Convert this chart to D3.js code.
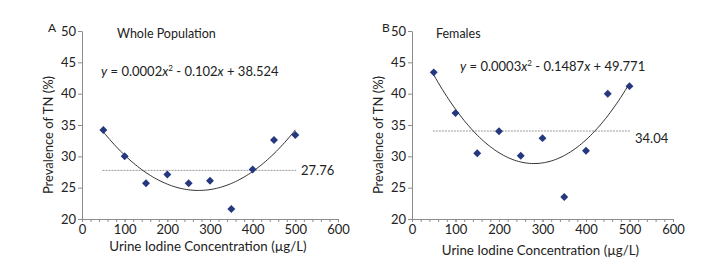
<!DOCTYPE html>
<html lang="en">
<head>
<meta charset="UTF-8">
<title>Prevalence of TN vs urine iodine</title>
<script src="https://d3js.org/d3.v7.min.js"></script>
<style>
  body { margin: 0; background: #fff; }
  svg { display: block; font-family: Lato, 'Open Sans', sans-serif; }
  .axis path, .axis line { stroke: #8c8c8c; }
  .axis text { fill: #222; font-size: 13px; font-family: Lato, sans-serif; }
</style>
</head>
<body>
<svg id="chart" width="716" height="263"></svg>
<script>
// urine iodine groups (µg/L)
const iodine = [50, 100, 150, 200, 250, 300, 350, 400, 450, 500];
// prevalence of TN (%)
const wholePop = [34.2, 30.0, 25.7, 27.1, 25.7, 26.1, 21.6, 27.9, 32.6, 33.4];
const females = [43.4, 36.9, 30.5, 34.0, 30.1, 32.9, 23.5, 30.9, 40.0, 41.2];
const xTicks = [0, 100, 200, 300, 400, 500, 600];
const yTicks = [20, 25, 30, 35, 40, 45, 50];

const panels = [
  { letter: 'A', title: 'Whole Population', values: wholePop, mean: 27.76,
    eq: ['0.0002', '0.102', '38.524'], left: 82, right: 338,
    letterX: 48, titleX: 117, eqX: 101, eqY: 76, meanX: 301, meanY: 175 },
  { letter: 'B', title: 'Females', values: females, mean: 34.04,
    eq: ['0.0003', '0.1487', '49.771'], left: 412, right: 673,
    letterX: 382, titleX: 436, eqX: 460, eqY: 71, meanX: 635, meanY: 143 }
];

const svg = d3.select('#chart');
const plotTop = 31, plotBottom = 219;

// least squares quadratic, like the spreadsheet trendline
function quadFit(xs, ys) {
  const s = k => d3.sum(xs, x => Math.pow(x, k));
  const t = k => d3.sum(xs, (x, i) => Math.pow(x, k) * ys[i]);
  const A = [[s(4), s(3), s(2)], [s(3), s(2), s(1)], [s(2), s(1), xs.length]];
  const b = [t(2), t(1), t(0)];
  // gaussian elimination
  for (let i = 0; i < 3; i++) {
    for (let j = i + 1; j < 3; j++) {
      const f = A[j][i] / A[i][i];
      for (let k = i; k < 3; k++) A[j][k] -= f * A[i][k];
      b[j] -= f * b[i];
    }
  }
  const c = [0, 0, 0];
  for (let i = 2; i >= 0; i--) {
    let v = b[i];
    for (let k = i + 1; k < 3; k++) v -= A[i][k] * c[k];
    c[i] = v / A[i][i];
  }
  return x => c[0] * x * x + c[1] * x + c[2];
}

panels.forEach(p => {
  const x = d3.scaleLinear().domain([0, 600]).range([p.left, p.right]);
  const y = d3.scaleLinear().domain([20, 50]).range([plotBottom, plotTop]);
  const g = svg.append('g');

  // minor ticks on x axis
  g.append('g')
    .attr('class', 'axis')
    .attr('transform', `translate(0,${plotBottom})`)
    .call(d3.axisBottom(x).tickValues(d3.range(0, 601, 20)).tickSize(3).tickFormat(''))
    .call(a => a.select('.domain').remove());

  g.append('g')
    .attr('class', 'axis')
    .attr('transform', `translate(0,${plotBottom})`)
    .call(d3.axisBottom(x).tickValues(xTicks).tickSize(3).tickSizeOuter(0).tickPadding(3));

  g.append('g')
    .attr('class', 'axis')
    .attr('transform', `translate(${p.left},0)`)
    .call(d3.axisLeft(y).tickValues(yTicks).tickSize(4).tickSizeOuter(0).tickPadding(2));

  // mean line
  g.append('line')
    .attr('x1', x(48)).attr('x2', x(502))
    .attr('y1', y(p.mean)).attr('y2', y(p.mean))
    .attr('stroke', '#9a9a9a').attr('stroke-width', 1)
    .attr('stroke-dasharray', '2,1');

  // trend curve
  const f = quadFit(iodine, p.values);
  g.append('path')
    .datum(d3.range(50, 500.1, 5))
    .attr('fill', 'none')
    .attr('stroke', '#333')
    .attr('stroke-width', 1)
    .attr('d', d3.line().x(d => x(d)).y(d => y(f(d))));

  // points
  g.selectAll('.pt')
    .data(iodine)
    .enter().append('path')
    .attr('class', 'pt')
    .attr('transform', (d, i) => `translate(${x(d)},${y(p.values[i])})`)
    .attr('d', d3.symbol(d3.symbolDiamond2, 40))
    .attr('fill', '#25377f');

  // texts
  g.append('text').attr('x', p.letterX).attr('y', 32)
    .attr('font-size', 12).attr('fill', '#222').text(p.letter);
  g.append('text').attr('x', p.titleX).attr('y', 38)
    .attr('font-size', 12.5).attr('fill', '#222').text(p.title);

  const eq = g.append('text').attr('x', p.eqX).attr('y', p.eqY)
    .attr('font-size', 13).attr('fill', '#222');
  eq.append('tspan').attr('font-style', 'italic').text('y');
  eq.append('tspan').text(' = ' + p.eq[0]);
  eq.append('tspan').attr('font-style', 'italic').text('x');
  eq.append('tspan').attr('font-size', 8).attr('dy', -5).text('2');
  eq.append('tspan').attr('dy', 5).text(' - ' + p.eq[1]);
  eq.append('tspan').attr('font-style', 'italic').text('x');
  eq.append('tspan').text(' + ' + p.eq[2]);

  g.append('text').attr('x', p.meanX).attr('y', p.meanY)
    .attr('font-size', 13).attr('fill', '#222').text(p.mean.toFixed(2));

  g.append('text')
    .attr('transform', `translate(${p.left - 29},${(plotTop + plotBottom) / 2 + 10}) rotate(-90)`)
    .attr('text-anchor', 'middle')
    .attr('font-size', 13).attr('fill', '#222')
    .text('Prevalence of TN (%)');

  g.append('text')
    .attr('x', (p.left + p.right) / 2 - 2).attr('y', p.letter === 'A' ? 251 : 255)
    .attr('text-anchor', 'middle')
    .attr('font-size', 13.3).attr('fill', '#222')
    .text('Urine Iodine Concentration (µg/L)');
});
</script>
</body>
</html>
